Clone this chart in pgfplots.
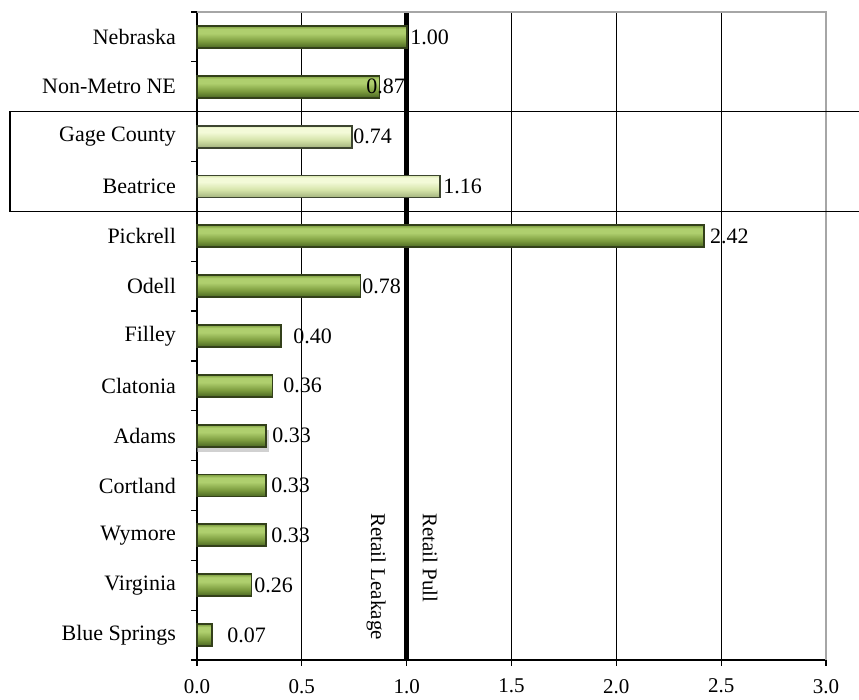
\documentclass[border=0pt]{standalone}
\usepackage{pgfplots}
\pgfplotsset{compat=1.18}
\usepackage{fontspec}
\setmainfont{Liberation Serif}
\definecolor{gdark}{HTML}{4A6622}
\definecolor{gmid}{HTML}{7C9C3E}
\definecolor{glight}{HTML}{AFCF6E}
\definecolor{gedge}{HTML}{33401A}
\definecolor{pdark}{HTML}{A3B37E}
\definecolor{pmid}{HTML}{D4E3A8}
\definecolor{plight}{HTML}{F3FAD8}
\definecolor{pedge}{HTML}{3D4530}
\pgfdeclareverticalshading{greenbar}{100bp}{color(0bp)=(gdark); color(25bp)=(gdark); color(40bp)=(gmid); color(58bp)=(glight); color(68bp)=(glight); color(75bp)=(gmid); color(100bp)=(gmid)}
\pgfdeclareverticalshading{palebar}{100bp}{color(0bp)=(pdark); color(25bp)=(pdark); color(42bp)=(pmid); color(60bp)=(plight); color(70bp)=(plight); color(75bp)=(pmid); color(100bp)=(pmid)}
\pgfplotsset{
  greenb/.style={xbar, bar width=11pt, bar shift=0pt, draw=gedge, line width=0.9pt, shade, shading=greenbar},
  paleb/.style={xbar, bar width=11pt, bar shift=0pt, draw=pedge, line width=0.9pt, shade, shading=palebar},
}
\pgfplotstableread{
x y l
1.016 12 1.00
0.806 11 0.87
0.744 10 0.74
1.173 9 1.16
2.446 8 2.42
0.787 7 0.78
0.458 6 0.40
0.410 5 0.36
0.358 4 0.33
0.353 3 0.33
0.353 2 0.33
0.272 1 0.26
0.143 0 0.07
}\labeltable
\begin{document}
\begin{tikzpicture}
\path[use as bounding box] (-98.5pt,-20pt) rectangle (331pt,330pt);
\begin{axis}[
  at={(0,0)}, anchor=south west, scale only axis,
  width=314.5pt, height=324pt,
  xmin=0, xmax=3, ymin=-0.5, ymax=12.5,
  clip=false,
  axis x line*=bottom, axis y line*=left,
  axis line style={black, line width=0.6pt},
  tick align=outside,
  major tick length=3pt, minor tick length=3pt,
  xtick={0,0.5,1.5,2,2.5,3},
  extra x ticks={1},
  extra x tick style={grid style={black, line width=2.6pt}, tick style={black, line width=2.6pt}},
  xmajorgrids, grid style={black, line width=0.6pt},
  xtick style={black, line width=0.6pt},
  /pgf/number format/assume math mode=true,
  xticklabel style={/pgf/number format/fixed, /pgf/number format/fixed zerofill, /pgf/number format/precision=1, font=\fontsize{10.5}{12}\selectfont, yshift=-3pt},
  ytick={0,...,12},
  yticklabels={Blue Springs, Virginia, Wymore, Cortland, Adams, Clatonia, Filley, Odell, Pickrell, Beatrice, Gage County, Non-Metro NE, Nebraska},
  minor ytick={-0.5,0.5,...,12.5},
  every major y tick/.append style={draw=none},
  ytick style={black, line width=0.6pt},
  yticklabel style={font=\fontsize{11}{13}\selectfont, xshift=-4pt},
]
% shadow under Adams
\addplot[xbar, bar width=11pt, bar shift=-2.5pt, fill=black!30, draw=none, opacity=0.6] coordinates {(0.345,4)};
\addplot[greenb] coordinates {(0.07,0)};
\addplot[greenb] coordinates {(0.26,1)};
\addplot[greenb] coordinates {(0.33,2)};
\addplot[greenb] coordinates {(0.33,3)};
\addplot[greenb] coordinates {(0.33,4)};
\addplot[greenb] coordinates {(0.36,5)};
\addplot[greenb] coordinates {(0.40,6)};
\addplot[greenb] coordinates {(0.78,7)};
\addplot[greenb] coordinates {(2.42,8)};
\addplot[paleb] coordinates {(1.16,9)};
\addplot[paleb] coordinates {(0.74,10)};
\addplot[greenb] coordinates {(0.87,11)};
\addplot[greenb] coordinates {(1.00,12)};
\addplot[draw=none, nodes near coords, point meta=explicit symbolic,
  every node near coord/.append style={anchor=west, inner sep=0pt, font=\fontsize{11}{13}\selectfont}]
  table[x=x, y=y, meta=l] {\labeltable};
\draw[gray!70, line width=0.6pt] (axis cs:0,12.5) -- (axis cs:3,12.5) -- (axis cs:3,-0.5);
\draw[black, line width=0.6pt] ([xshift=-93.5pt]axis cs:0,8.5) rectangle ([xshift=25pt]axis cs:3,10.5);
\node[rotate=-90, anchor=west, inner sep=0pt, font=\fontsize{10.5}{12}\selectfont] at (axis cs:0.855,2.45) {Retail Leakage};
\node[rotate=-90, anchor=west, inner sep=0pt, font=\fontsize{10.5}{12}\selectfont] at (axis cs:1.111,2.45) {Retail Pull};
\end{axis}
\end{tikzpicture}
\end{document}
